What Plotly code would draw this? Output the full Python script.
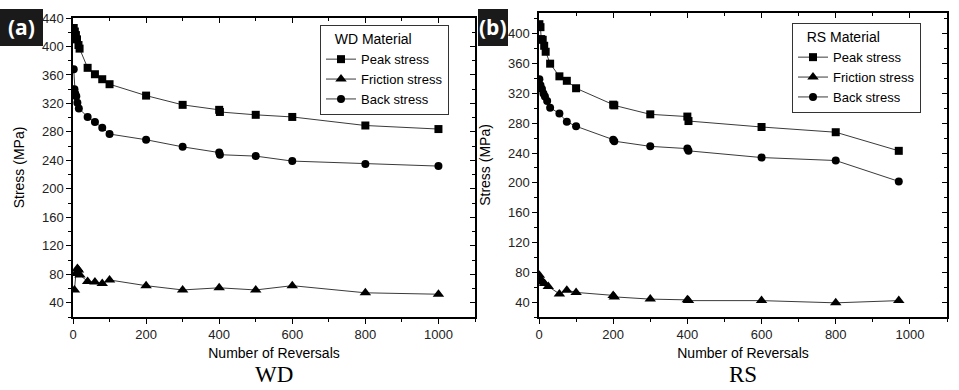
import plotly.graph_objects as go

# ---------------- data ----------------
wd_peak_x = [2, 5, 8, 11, 15, 18, 40, 60, 80, 100, 200, 300, 400, 402, 500, 600, 800, 1000]
wd_peak_y = [426, 421, 416, 410, 402, 397, 370, 361, 354, 347, 331, 318, 311, 308, 304, 301, 289, 284]
wd_fric_x = [4, 8, 12, 15, 19, 40, 60, 80, 100, 200, 300, 400, 500, 600, 800, 1000]
wd_fric_y = [58, 81, 88, 86, 79, 70, 69, 67, 72, 64, 58, 61, 58, 64, 54, 52]
wd_back_x = [2, 4, 6, 9, 12, 16, 40, 60, 80, 100, 200, 300, 400, 402, 500, 600, 800, 1000]
wd_back_y = [368, 340, 334, 330, 321, 313, 301, 294, 286, 277, 269, 259, 251, 248, 246, 239, 235, 232]

rs_peak_x = [1, 4, 6, 10, 14, 18, 30, 55, 75, 100, 200, 203, 300, 400, 403, 600, 800, 970]
rs_peak_y = [413, 409, 393, 392, 384, 376, 360, 343, 337, 327, 305, 304, 292, 289, 283, 275, 268, 243]
rs_fric_x = [1, 5, 10, 15, 25, 55, 75, 100, 200, 203, 300, 400, 403, 600, 800, 970]
rs_fric_y = [76, 70, 67, 65, 61, 51, 56, 53, 49, 47, 44, 43, 42, 42, 39, 42]
rs_back_x = [1, 4, 8, 12, 16, 22, 30, 55, 75, 100, 200, 203, 300, 400, 403, 600, 800, 970]
rs_back_y = [339, 331, 326, 320, 316, 310, 301, 293, 282, 276, 258, 256, 249, 246, 243, 234, 230, 202]

series_names = ["Peak stress", "Friction stress", "Back stress"]
x_title = "Number of Reversals"
y_title = "Stress (MPa)"

W, H = 959, 390
FONT = "Liberation Sans, Arial, sans-serif"

fig = go.Figure()

symbols = ["square", "triangle-up", "circle"]
sizes = [8, 10, 8]

wd = [(wd_peak_x, wd_peak_y), (wd_fric_x, wd_fric_y), (wd_back_x, wd_back_y)]
rs = [(rs_peak_x, rs_peak_y), (rs_fric_x, rs_fric_y), (rs_back_x, rs_back_y)]

for i, (xs, ys) in enumerate(wd):
    fig.add_trace(go.Scatter(x=xs, y=ys, mode="lines+markers", name=series_names[i],
                             line=dict(color="#3a3a3a", width=1),
                             marker=dict(symbol=symbols[i], size=sizes[i], color="black"),
                             xaxis="x", yaxis="y", legend="legend"))
for i, (xs, ys) in enumerate(rs):
    fig.add_trace(go.Scatter(x=xs, y=ys, mode="lines+markers", name=series_names[i],
                             line=dict(color="#3a3a3a", width=1),
                             marker=dict(symbol=symbols[i], size=sizes[i], color="black"),
                             xaxis="x2", yaxis="y2", legend="legend2"))

# invisible traces for mirror axes
fig.add_trace(go.Scatter(x=[0], y=[0], xaxis="x3", yaxis="y3", mode="markers",
                         marker=dict(opacity=0), showlegend=False, hoverinfo="skip"))
fig.add_trace(go.Scatter(x=[0], y=[0], xaxis="x4", yaxis="y4", mode="markers",
                         marker=dict(opacity=0), showlegend=False, hoverinfo="skip"))

xdom1 = [73 / W, 475 / W]
xdom2 = [539 / W, 947 / W]
ydom1 = [1 - 317 / H, 1 - 18 / H]
ydom2 = [1 - 317 / H, 1 - 13 / H]
xr = [0, 1100]
yr1 = [20, 440]
yr2 = [20, 428]

tickfont = dict(family=FONT, size=13, color="#222")
titlefont = dict(family=FONT, size=14, color="black")


def xax(dom, anchor):
    return dict(domain=dom, anchor=anchor, range=xr, showgrid=False, zeroline=False,
                automargin=False,
                showline=True, linecolor="black", linewidth=1.5,
                ticks="outside", ticklen=5, tickwidth=1, tickcolor="black",
                tick0=0, dtick=200, tickfont=tickfont,
                minor=dict(ticks="outside", ticklen=3, dtick=100, tickcolor="black"),
                title=dict(text=x_title, font=titlefont, standoff=7))


def yax(dom, anchor, rng):
    return dict(domain=dom, anchor=anchor, range=rng, showgrid=False, zeroline=False,
                automargin=False,
                showline=True, linecolor="black", linewidth=1.5,
                ticks="outside", ticklen=5, tickwidth=1, tickcolor="black",
                tick0=0, dtick=40, tickfont=tickfont,
                minor=dict(ticks="outside", ticklen=3, dtick=20, tickcolor="black"),
                title=dict(text=y_title, font=titlefont, standoff=14))


def xmirror(over, anchor, dom):
    return dict(overlaying=over, anchor=anchor, side="top", range=xr, domain=dom,
                automargin=False,
                showgrid=False, zeroline=False, showline=True, linecolor="black", linewidth=1.5,
                ticks="inside", ticklen=5, tickcolor="black", tick0=0, dtick=200,
                showticklabels=False,
                minor=dict(ticks="inside", ticklen=3, dtick=100, tickcolor="black"))


def ymirror(over, anchor, rng, dom):
    return dict(overlaying=over, anchor=anchor, side="right", range=rng, domain=dom,
                automargin=False,
                showgrid=False, zeroline=False, showline=True, linecolor="black", linewidth=1.5,
                ticks="inside", ticklen=5, tickcolor="black", tick0=0, dtick=40,
                showticklabels=False,
                minor=dict(ticks="inside", ticklen=3, dtick=20, tickcolor="black"))


legend_common = dict(xanchor="left", yanchor="top", bgcolor="white",
                     bordercolor="#333", borderwidth=1,
                     font=dict(family=FONT, size=13, color="black"),
                     tracegroupgap=0, itemwidth=30)

fig.update_layout(
    width=W, height=H,
    margin=dict(l=0, r=0, t=0, b=0),
    paper_bgcolor="white", plot_bgcolor="white",
    xaxis=xax(xdom1, "y"),
    yaxis=yax(ydom1, "x", yr1),
    xaxis2=xax(xdom2, "y2"),
    yaxis2=yax(ydom2, "x2", yr2),
    xaxis3=xmirror("x", "y", xdom1),
    yaxis3=ymirror("y", "x", yr1, ydom1),
    xaxis4=xmirror("x2", "y2", xdom2),
    yaxis4=ymirror("y2", "x2", yr2, ydom2),
    legend=dict(x=320 / W, y=1 - 25 / H,
                title=dict(text="   WD Material", font=dict(family=FONT, size=14)),
                **legend_common),
    legend2=dict(x=792 / W, y=1 - 23 / H,
                 title=dict(text="   RS Material", font=dict(family=FONT, size=14)),
                 **legend_common),
    showlegend=True,
)

# panel labels (a), (b)
for (x0, x1, txt) in [(0, 43, "(a)"), (478, 508, "(b)")]:
    fig.add_shape(type="rect", xref="paper", yref="paper",
                  x0=x0 / W, x1=x1 / W, y0=1 - 46 / H, y1=1 - 9 / H,
                  fillcolor="#1a1a1a", line=dict(width=0), layer="above")
    fig.add_annotation(xref="paper", yref="paper", x=(x0 + x1) / 2 / W, y=1 - 27.5 / H,
                       text="<b>" + txt + "</b>", showarrow=False,
                       font=dict(family="Open Sans, DejaVu Sans, sans-serif", size=21, color="white"),
                       xanchor="center", yanchor="middle")

# captions below
for (xc, txt) in [(274, "WD"), (743, "RS")]:
    fig.add_annotation(xref="paper", yref="paper", x=xc / W, y=1 - 374 / H,
                       text=txt, showarrow=False,
                       font=dict(family="Liberation Serif, Times New Roman, serif", size=23, color="black"),
                       xanchor="center", yanchor="middle")

fig.write_html("out.html", config={"displayModeBar": False},
               post_script="document.body.style.margin='0';document.body.style.padding='0';document.body.style.overflow='hidden';")
